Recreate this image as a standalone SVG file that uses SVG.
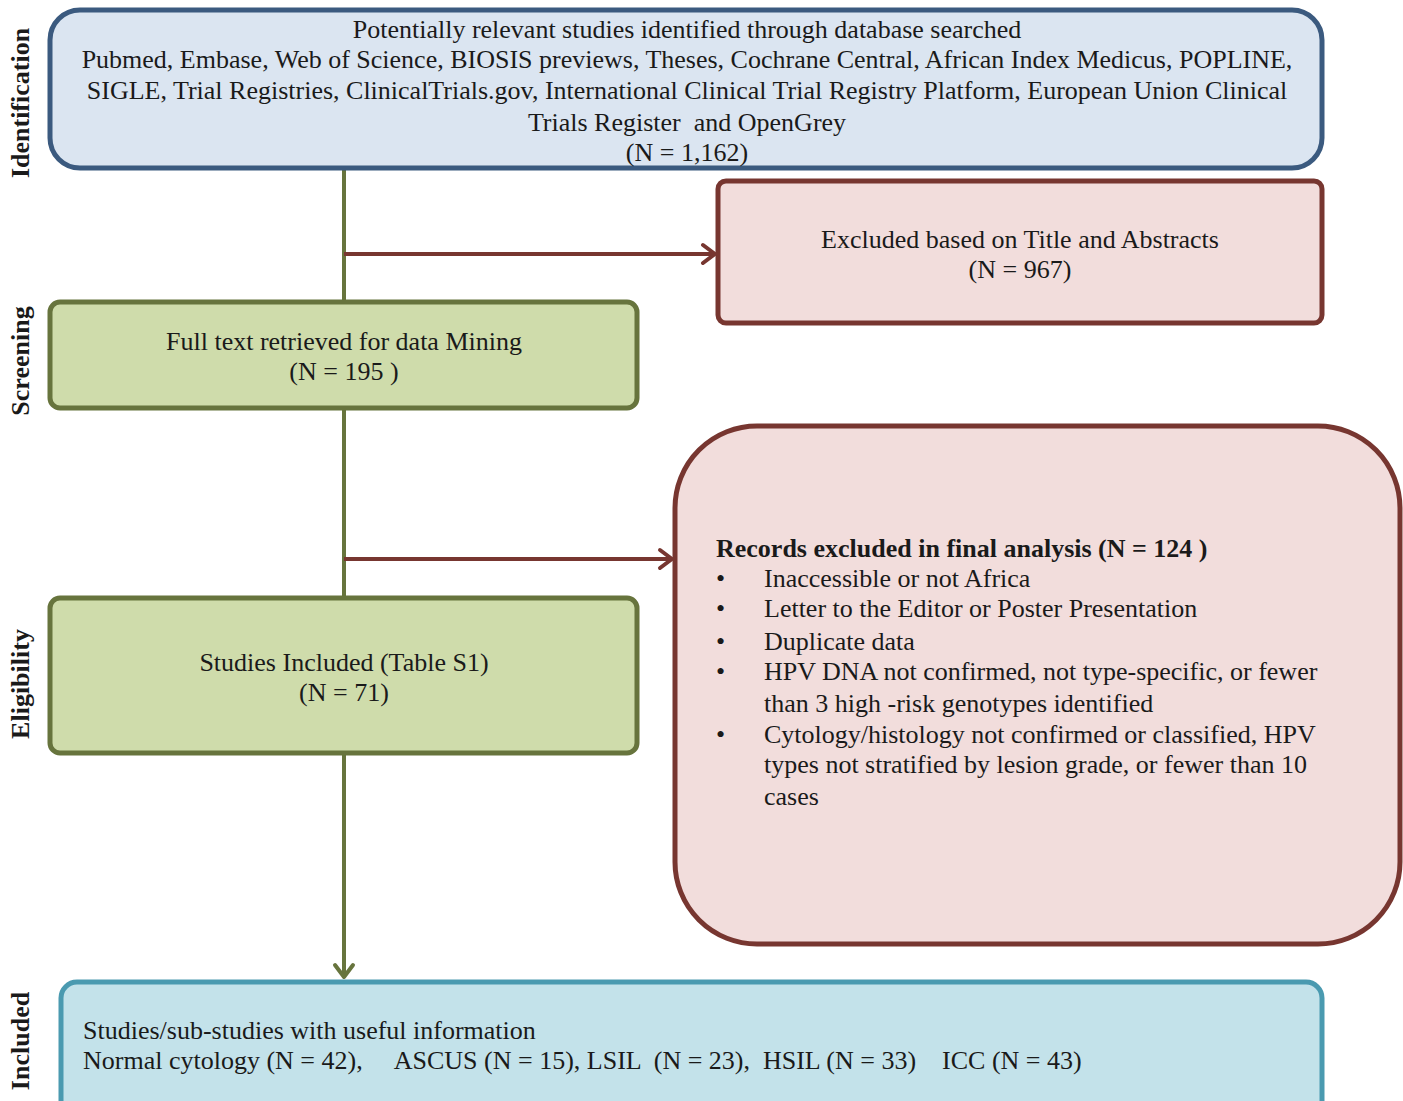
<svg xmlns="http://www.w3.org/2000/svg" width="1403" height="1101" viewBox="0 0 1403 1101">
<style>
text{font-family:"Liberation Serif","Times New Roman",serif;fill:#1a1a1a;font-size:26px}
.c{text-anchor:middle}
.side{font-weight:bold;font-size:26px;text-anchor:middle}
.blue{fill:#dbe5f1;stroke:#3b5a7f;stroke-width:5}
.red{fill:#f2dddc;stroke:#773630;stroke-width:5}
.green{fill:#cfdcab;stroke:#67743d;stroke-width:5}
.teal{fill:#c3e2ea;stroke:#4a9ab0;stroke-width:5}
.gl{stroke:#67743d;stroke-width:4;fill:none}
.rl{stroke:#773630;stroke-width:4;fill:none}
.head{stroke-linecap:round;stroke-linejoin:round}
</style>
<rect width="1403" height="1101" fill="#ffffff"/>
<g id="labels">
<text class="side" transform="translate(29,103) rotate(-90)">Identification</text>
<text class="side" transform="translate(29,361) rotate(-90)">Screening</text>
<text class="side" transform="translate(29,684) rotate(-90)">Eligibility</text>
<text class="side" transform="translate(29,1041) rotate(-90)">Included</text>
</g>
<g id="connectors">
<line class="gl" x1="344" y1="168" x2="344" y2="302"/>
<line class="gl" x1="344" y1="408" x2="344" y2="598"/>
<line class="gl" x1="344" y1="753" x2="344" y2="977"/>
<polyline class="gl head" points="335,965 344,977 353,965"/>
<line class="rl" x1="344" y1="254" x2="715" y2="254"/>
<polyline class="rl head" points="703,245 715,254 703,263"/>
<line class="rl" x1="344" y1="559" x2="672" y2="559"/>
<polyline class="rl head" points="660,550 672,559 660,568"/>
</g>
<g id="identification">
<rect class="blue" x="50" y="10" width="1272" height="158" rx="30"/>
<text class="c" x="687" y="38">Potentially relevant studies identified through database searched</text>
<text class="c" x="687" y="68">Pubmed, Embase, Web of Science, BIOSIS previews, Theses, Cochrane Central, African Index Medicus, POPLINE,</text>
<text class="c" x="687" y="99">SIGLE, Trial Registries, ClinicalTrials.gov, International Clinical Trial Registry Platform, European Union Clinical</text>
<text class="c" x="687" y="131" xml:space="preserve">Trials Register  and OpenGrey</text>
<text class="c" x="687" y="161">(N = 1,162)</text>
</g>
<g id="excluded-title">
<rect class="red" x="718" y="181" width="604" height="142" rx="8"/>
<text class="c" x="1020" y="248">Excluded based on Title and Abstracts</text>
<text class="c" x="1020" y="278">(N = 967)</text>
</g>
<g id="fulltext">
<rect class="green" x="50" y="302" width="587" height="106" rx="10"/>
<text class="c" x="344" y="350">Full text retrieved for data Mining</text>
<text class="c" x="344" y="380">(N = 195 )</text>
</g>
<g id="excluded-final">
<rect class="red" x="675" y="426" width="725" height="518" rx="82"/>
<text x="716" y="557" font-weight="bold">Records excluded in final analysis (N = 124 )</text>
<text x="716" y="587">•</text><text x="764" y="587">Inaccessible or not Africa</text>
<text x="716" y="617">•</text><text x="764" y="617">Letter to the Editor or Poster Presentation</text>
<text x="716" y="650">•</text><text x="764" y="650">Duplicate data</text>
<text x="716" y="680">•</text><text x="764" y="680">HPV DNA not confirmed, not type-specific, or fewer</text>
<text x="764" y="712">than 3 high -risk genotypes identified</text>
<text x="716" y="743">•</text><text x="764" y="743">Cytology/histology not confirmed or classified, HPV</text>
<text x="764" y="773">types not stratified by lesion grade, or fewer than 10</text>
<text x="764" y="805">cases</text>
</g>
<g id="studies-included">
<rect class="green" x="50" y="598" width="587" height="155" rx="10"/>
<text class="c" x="344" y="671">Studies Included (Table S1)</text>
<text class="c" x="344" y="701">(N = 71)</text>
</g>
<g id="included">
<rect class="teal" x="61" y="982" width="1261" height="140" rx="16"/>
<text x="83" y="1039">Studies/sub-studies with useful information</text>
<text x="83" y="1069" xml:space="preserve">Normal cytology (N = 42),     ASCUS (N = 15), LSIL  (N = 23),  HSIL (N = 33)    ICC (N = 43)</text>
</g>
</svg>
